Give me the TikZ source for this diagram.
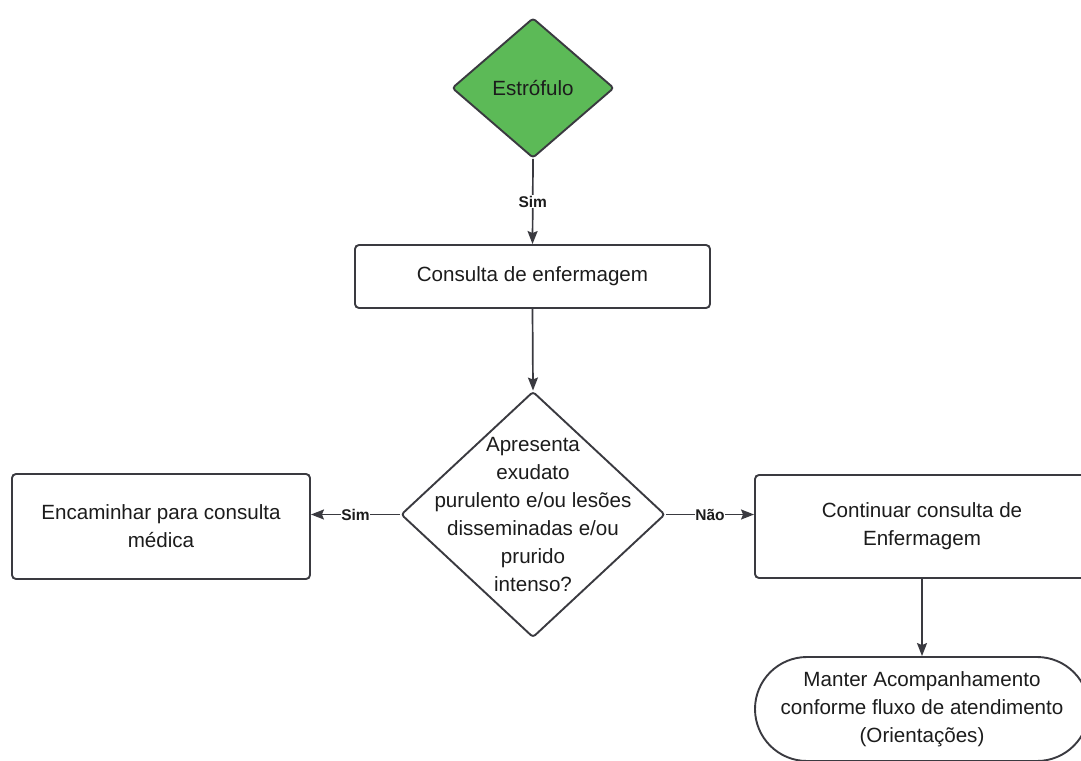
\documentclass[tikz,border=0pt]{standalone}
\usepackage{fontspec}
\setmainfont{Liberation Sans}
\usetikzlibrary{shapes.geometric,arrows.meta}
\definecolor{edgegray}{RGB}{58,58,64}
\definecolor{leafgreen}{RGB}{92,186,87}
\definecolor{ink}{RGB}{28,28,28}

\begin{document}
\begin{tikzpicture}[x=1pt,y=-1pt,
  every node/.style={font=\fontsize{20.6}{28}\selectfont, text=ink},
  procbox/.style={draw=edgegray, line width=1.9pt, rounded corners=4pt, fill=white,
                  align=center, inner sep=0pt},
  decision/.style={draw=edgegray, line width=1.9pt, shape=diamond, inner sep=0pt,
                   rounded corners=3pt},
  terminal/.style={draw=edgegray, line width=1.9pt, rounded corners=52pt, fill=white,
                   align=center, inner sep=0pt},
  conn/.style={draw=edgegray, line width=1.7pt, -{Stealth[length=13pt,width=10pt,inset=2pt]}},
  edgelabel/.style={font=\bfseries\fontsize{15.5}{17}\selectfont, fill=white, inner sep=0.6pt, text=ink}
]
\useasboundingbox (0,0) rectangle (1081,760);
\clip (0,0) rectangle (1081,760);

% start symbol
\node[decision, fill=leafgreen, minimum width=162pt, minimum height=140pt] (start) at (533,88) {};
\node at (start.center) {Estrófulo};

% first nursing consult
\node[procbox, minimum width=355pt, minimum height=63pt] (consult) at (532.5,276.5)
  {Consulta de enfermagem};

% question
\node[decision, fill=white, minimum width=264pt, minimum height=246pt] (ask) at (533,514.5) {};
\node[align=center] (asktext) at (533,515)
  {Apresenta\\exudato\\purulento e/ou lesões\\disseminadas e/ou\\prurido\\intenso?};

% outcomes
\node[procbox, minimum width=298pt, minimum height=105pt] (refer) at (161,526.5)
  {Encaminhar para consulta\\médica};
\node[procbox, minimum width=334pt, minimum height=103pt] (cont) at (922,526.5)
  {Continuar consulta de\\Enfermagem};
\node[terminal, minimum width=334pt, minimum height=104pt] (keep) at (922,709)
  {Manter Acompanhamento\\conforme fluxo de atendimento\\(Orientações)};

% connectors
\draw[conn] (start.south) -- node[edgelabel] {Sim} (consult.north);
\draw[conn] (consult.south) -- (ask.north);
\draw[conn] (ask.west) -- node[edgelabel] {Sim} (ask.west -| refer.east);
\draw[conn] (ask.east) -- node[edgelabel] {Não} (ask.east -| cont.west);
\draw[conn] (cont.south) -- (keep.north);
\end{tikzpicture}
\end{document}
